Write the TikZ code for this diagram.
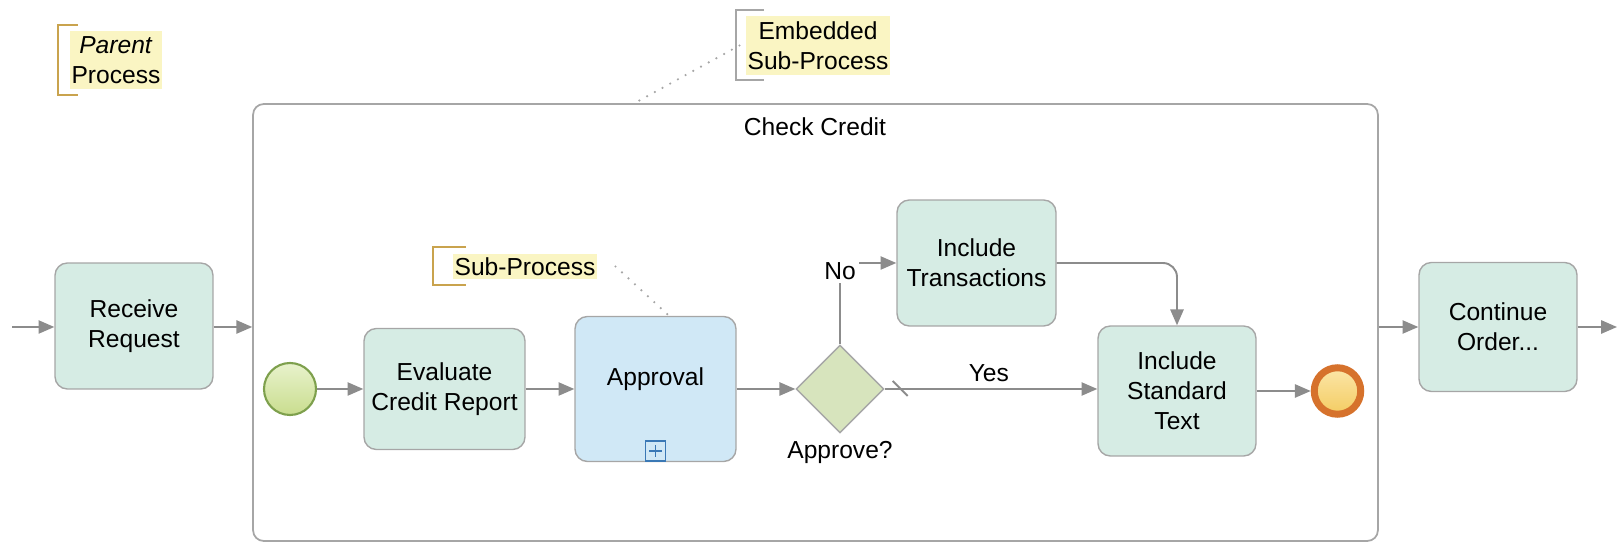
\documentclass[tikz,border=0pt]{standalone}
\usepackage{fontspec}
\setmainfont{Liberation Sans}
\usetikzlibrary{arrows.meta,positioning,shapes.geometric}
\definecolor{taskfill}{HTML}{D6ECE4}
\definecolor{subfill}{HTML}{D0E8F6}
\definecolor{gwfill}{HTML}{D7E4BD}
\definecolor{boxline}{HTML}{A6A6A6}
\definecolor{flowgray}{HTML}{8C8C8C}
\definecolor{notefill}{HTML}{FAF5C3}
\definecolor{notegold}{HTML}{C9A34E}
\definecolor{plusblue}{HTML}{3A78B5}

\begin{document}
\begin{tikzpicture}[x=0.02cm, y=-0.02cm, >={Triangle[length=9pt,width=7.5pt]},
    every node/.style={align=center, font=\fontsize{14}{17}\selectfont},
    task/.style={draw=boxline, line width=0.8pt, rounded corners=7pt, fill=taskfill,
      minimum width=3.16cm, minimum height=2.52cm},
    flow/.style={->, draw=flowgray, line width=1.1pt},
    note/.style={fill=notefill, inner xsep=1pt, inner ysep=3pt},
    notebrk/.style={draw=notegold, line width=0.8pt},
    assoc/.style={draw=boxline, line width=1.4pt, line cap=round, dash pattern=on 0pt off 5pt}]
    \useasboundingbox (0,0) rectangle (1617,543);
    % embedded sub-process
    \node[draw=boxline, line width=1pt, rounded corners=6pt, minimum width=22.5cm,
      minimum height=8.74cm] (chk) at (815.5,322.5) {};
    \node (chkTitle) at (815,127) {Check Credit};
    % annotations
    \node[note] (notePar) at (116,60) {\textit{Parent}\\Process};
    \draw[notebrk] (78,25) -| (58,95) -- (78,95);
    \node[note] (noteEmb) at (818,45.5) {Embedded\\Sub-Process};
    \draw[notebrk, draw=boxline] (764,10) -| (736,80) -- (764,80);
    \node[note, inner ysep=2pt] (noteSub) at (525,266.5) {Sub-Process};
    \draw[notebrk] (466,247) -| (433,285) -- (466,285);
    % tasks
    \node[task] (recv) at (134,326) {Receive\\Request};
    \node[circle, draw={rgb,255:red,126;green,160;blue,77}, line width=1.2pt, minimum size=1.04cm,
      inner sep=0pt, top color={rgb,255:red,232;green,242;blue,204},
      bottom color={rgb,255:red,201;green,221;blue,142}] (startEv) at (290,389) {};
    \node[task, minimum width=3.22cm, minimum height=2.42cm] (eval) at (444.5,389) {Evaluate\\Credit Report};
    \node[task, fill=subfill, minimum width=3.22cm, minimum height=2.9cm, text depth=0.5cm] (appr) at (655.5,389) {Approval};
    \node[draw=plusblue, line width=0.7pt, minimum size=0.4cm, inner sep=0pt] (apprMark) at (655.5,451) {};
    \draw[plusblue, line width=0.7pt] ([xshift=2.5pt]apprMark.west) -- ([xshift=-2.5pt]apprMark.east)
      ([yshift=-2.5pt]apprMark.north) -- ([yshift=2.5pt]apprMark.south);
    \node[diamond, draw=boxline, line width=0.8pt, fill=gwfill, minimum width=1.76cm,
      minimum height=1.76cm, inner sep=0pt] (gw) at (840,389) {};
    \node[below=1pt of gw] (gwLabel) {Approve?};
    \node[task, minimum width=3.18cm] (trans) at (976.5,263) {Include\\Transactions};
    \node[task, minimum width=3.16cm, minimum height=2.6cm] (stdtxt) at (1177,391) {Include\\Standard\\Text};
    \node[circle, draw={rgb,255:red,214;green,114;blue,44}, line width=0.14cm, minimum size=0.93cm,
      inner sep=0pt, top color={rgb,255:red,251;green,230;blue,168},
      bottom color={rgb,255:red,244;green,204;blue,98}] (endEv) at (1337.5,391) {};
    \node[task, minimum width=3.16cm, minimum height=2.58cm] (cont) at (1498,327) {Continue\\Order...};
    \coordinate (inStart) at (12,327);
    \coordinate (outEnd) at (1617,327);
    \coordinate (embFoot) at (633,104);
    % flows
    \draw[flow] (inStart) -- (inStart -| recv.west);
    \draw[flow] (recv.east |- inStart) -- (inStart -| chk.west);
    \draw[flow] (startEv) -- (eval);
    \draw[flow] (eval) -- (appr);
    \draw[flow] (appr) -- (gw);
    \draw[flow] (gw.north) |- node[fill=white, inner sep=2pt, yshift=-0.16cm] (noLabel) {No} (trans.west);
    \draw[flow] (gw.east) -- node[above, pos=0.49] (yesLabel) {Yes} (gw.east -| stdtxt.west);
    \draw[draw=flowgray, line width=1.1pt] ([shift={(8,-8)}]gw.east) -- ++(15,15);
    \draw[flow, rounded corners=8pt] (trans.east) -| (stdtxt.north);
    \draw[flow] (stdtxt) -- (endEv);
    \draw[flow] (chk.east |- cont.west) -- (cont.west);
    \draw[flow] (cont) -- (outEnd);
    % associations
    \draw[assoc] ([xshift=-0.12cm]noteEmb.west) -- (embFoot);
    \draw[assoc] ([xshift=0.36cm]noteSub.east) -- ([xshift=0.27cm]appr.north);
  \end{tikzpicture}
\end{document}
